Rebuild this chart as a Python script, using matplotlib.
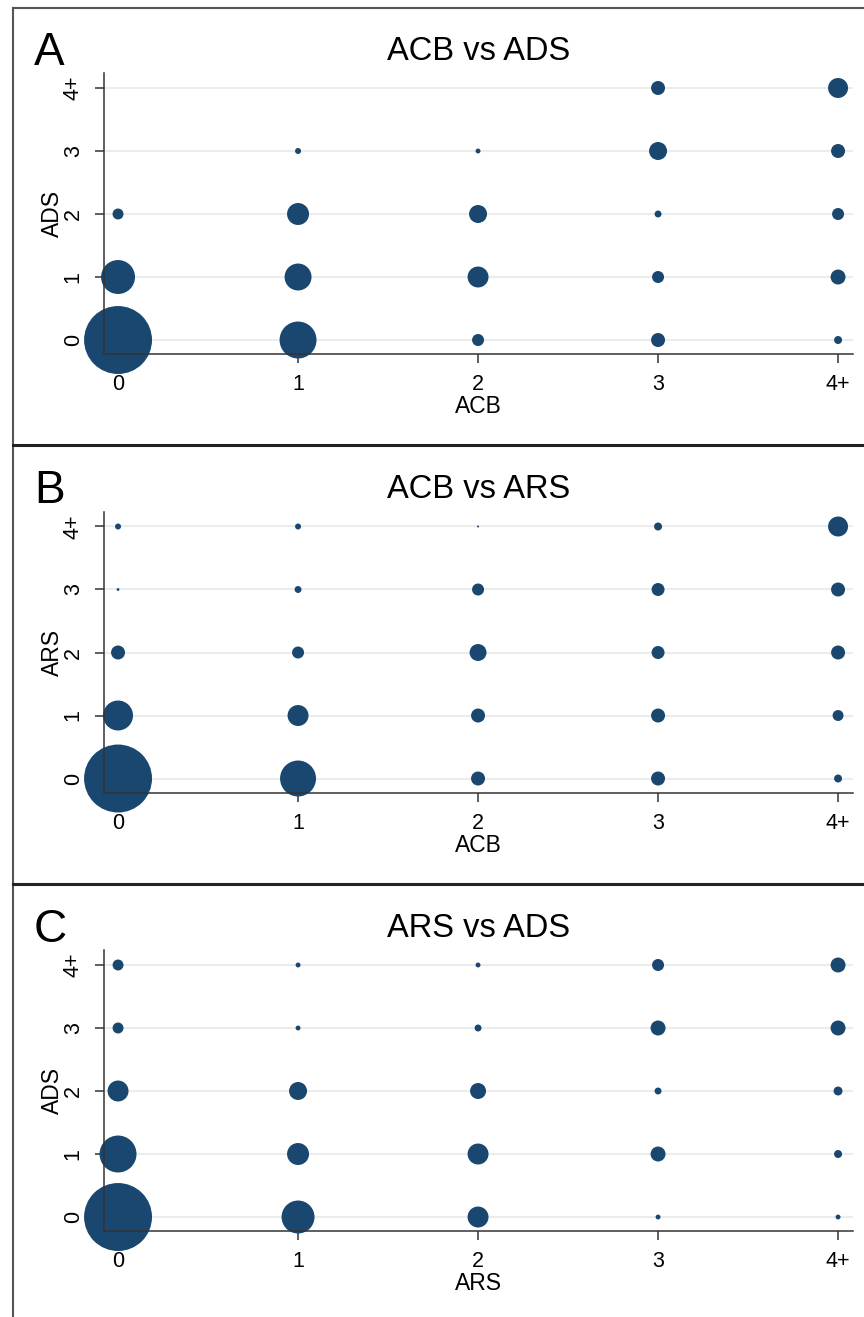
import numpy as np
import matplotlib.pyplot as plt
from matplotlib.lines import Line2D

plt.rcParams['font.family'] = ['Liberation Sans', 'DejaVu Sans']

# category levels shared by every score
levels = ['0', '1', '2', '3', '4+']

# frequency of each combination, rows = y level (0..4+), cols = x level (0..4+)
acb_ads = np.array([
    [1156, 342, 36, 49, 16],
    [289, 182, 110, 36, 56],
    [30, 121, 81, 12, 36],
    [0, 9, 6, 81, 49],
    [0, 0, 0, 49, 100],
])
acb_ars = np.array([
    [1156, 324, 49, 49, 16],
    [225, 110, 49, 49, 30],
    [49, 36, 72, 42, 49],
    [2, 12, 36, 42, 49],
    [9, 9, 1, 16, 100],
])
ars_ads = np.array([
    [1156, 272, 110, 6, 6],
    [342, 121, 110, 56, 16],
    [110, 81, 64, 12, 20],
    [30, 6, 12, 56, 56],
    [30, 6, 6, 36, 56],
])

panels = [
    ('A', 'ACB vs ADS', 'ACB', 'ADS', acb_ads),
    ('B', 'ACB vs ARS', 'ACB', 'ARS', acb_ars),
    ('C', 'ARS vs ADS', 'ARS', 'ADS', ars_ads),
]

navy = '#1a476f'
W, H = 864, 1317
fig = plt.figure(figsize=(W / 100, H / 100), dpi=100)

panel_h = 438.5
for i, (letter, title, xlab, ylab, counts) in enumerate(panels):
    off = i * panel_h
    top = 73 + off
    bottom = 354 + off
    ax = fig.add_axes([104 / W, 1 - bottom / H, 749 / W, (bottom - top) / H])

    xs, ys = np.meshgrid(np.arange(len(levels)), np.arange(len(levels)))
    m = counts > 0
    ax.scatter(xs[m], ys[m], s=counts[m] * 2.07, color=navy, linewidths=0,
               clip_on=False, zorder=1)

    ax.set_xlim(-0.078, 4.083)
    ax.set_ylim(-0.222, 4.238)
    ax.set_xticks(range(len(levels)))
    ax.set_xticklabels(levels)
    ax.set_yticks(range(len(levels)))
    ax.set_yticklabels(levels, rotation=90, va='center')

    ax.set_axisbelow(True)
    ax.yaxis.grid(True, color='#ececec', linewidth=1.5)
    for side in ['top', 'right']:
        ax.spines[side].set_visible(False)
    for side in ['left', 'bottom']:
        ax.spines[side].set_color('#333333')
        ax.spines[side].set_linewidth(1.1)
    ax.tick_params(direction='out', length=6.5, width=1.1, color='#333333',
                   labelsize=15.5, pad=8)

    ax.set_xlabel(xlab, fontsize=16.5, labelpad=0)
    ax.set_ylabel(ylab, fontsize=16.5, labelpad=-1)
    ax.set_title(title, fontsize=23.5, pad=9.4)

    fig.text(34 / W, 1 - (65 + off) / H, letter, fontsize=33, va='baseline')

# outer frame and panel separators
fig.add_artist(Line2D([12.5 / W, 12.5 / W], [0, 1 - 8 / H], color='#555555', lw=1.5))
fig.add_artist(Line2D([12.5 / W, 1], [1 - 8 / H, 1 - 8 / H], color='#555555', lw=1.5))
for y in [445, 884]:
    fig.add_artist(Line2D([12.5 / W, 1], [1 - y / H, 1 - y / H], color='#222222', lw=2.2))

fig.savefig('out.png', dpi=100)
